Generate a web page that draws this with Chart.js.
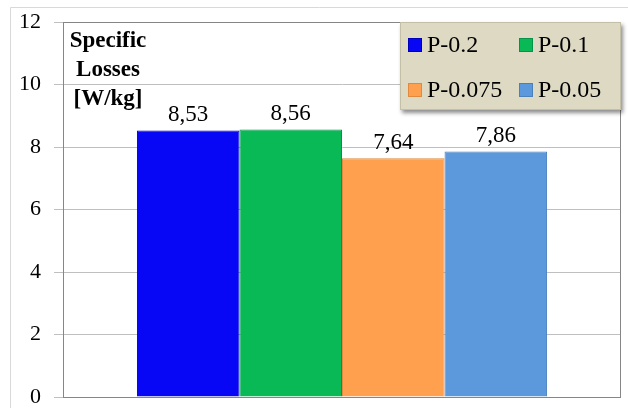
<!DOCTYPE html>
<html>
<head>
<meta charset="utf-8">
<script src="https://cdn.jsdelivr.net/npm/chart.js@4/dist/chart.umd.min.js"></script>
<style>
  html, body { margin: 0; padding: 0; background: #ffffff; }
  #wrap { width: 628px; height: 408px; position: relative; }
</style>
</head>
<body>
<div id="wrap"><canvas id="c" width="628" height="408"></canvas></div>
<script>
// Specific losses per sample
const categories = [''];
const seriesNames = ['P-0.2', 'P-0.1', 'P-0.075', 'P-0.05'];
const lossValues = [8.53, 8.56, 7.64, 7.86];
const seriesColors = ['#0707F5', '#08B956', '#FFA04F', '#5B98DC'];
const seriesEdges = ['#0000B8', '#06924A', '#E08A3F', '#4A80BE'];
const yAxisTitle = ['Specific', 'Losses', '[W/kg]'];
const yMin = 0, yMax = 12, yStep = 2;

const SERIF = "'Liberation Serif', 'Times New Roman', serif";

const datasets = seriesNames.map((name, i) => ({
  label: name,
  data: [lossValues[i]],
  backgroundColor: seriesColors[i],
  borderColor: seriesEdges[i],
  borderWidth: 1,
  categoryPercentage: 0.735,
  barPercentage: 1.0
}));

// Outer frame, drawn behind everything
const framePlugin = {
  id: 'frame',
  beforeDraw(chart) {
    const ctx = chart.ctx;
    ctx.save();
    ctx.fillStyle = '#ffffff';
    ctx.fillRect(0, 0, chart.width, chart.height);
    ctx.strokeStyle = '#D9D9D9';
    ctx.lineWidth = 1;
    ctx.beginPath();
    ctx.moveTo(10.5, chart.height);
    ctx.lineTo(10.5, 7.5);
    ctx.lineTo(chart.width, 7.5);
    ctx.stroke();
    ctx.restore();
  },
  afterDatasetsDraw(chart) {
    // plot area border
    const a = chart.chartArea;
    const ctx = chart.ctx;
    ctx.save();
    ctx.strokeStyle = '#868686';
    ctx.lineWidth = 1;
    ctx.strokeRect(Math.round(a.left) + 0.5, Math.round(a.top) + 0.5,
                   Math.round(a.right - a.left) - 1, Math.round(a.bottom - a.top));
    ctx.restore();
  }
};

// Value labels above bars, axis title, and the legend box
const annotatePlugin = {
  id: 'annotate',
  afterDraw(chart) {
    const ctx = chart.ctx;
    ctx.save();

    // values above each bar
    ctx.font = '23px ' + SERIF;
    ctx.fillStyle = '#000000';
    ctx.textAlign = 'center';
    ctx.textBaseline = 'bottom';
    chart.data.datasets.forEach((ds, i) => {
      const el = chart.getDatasetMeta(i).data[0];
      const txt = ds.data[0].toFixed(2).replace('.', ',');
      ctx.fillText(txt, el.x, el.y - 4);
    });

    // axis title inside the plot
    ctx.font = 'bold 23px ' + SERIF;
    ctx.textBaseline = 'middle';
    const a = chart.chartArea;
    yAxisTitle.forEach((line, k) => {
      ctx.fillText(line, a.left + 45, a.top + 19 + k * 29);
    });

    // legend
    const bx = 400, by = 22, bw = 221, bh = 88;
    ctx.save();
    ctx.shadowColor = 'rgba(0,0,0,0.45)';
    ctx.shadowBlur = 4;
    ctx.shadowOffsetX = 2;
    ctx.shadowOffsetY = 3;
    ctx.fillStyle = '#DDD9C3';
    ctx.fillRect(bx, by, bw, bh);
    ctx.restore();
    ctx.strokeStyle = '#C4C0A8';
    ctx.lineWidth = 1;
    ctx.strokeRect(bx + 0.5, by + 0.5, bw - 1, bh - 1);

    ctx.font = '24px ' + SERIF;
    ctx.textAlign = 'left';
    ctx.textBaseline = 'middle';
    const cols = [408, 519];
    const rows = [45, 90];
    chart.data.datasets.forEach((ds, i) => {
      const x = cols[i % 2];
      const y = rows[Math.floor(i / 2)];
      ctx.fillStyle = ds.backgroundColor;
      ctx.fillRect(x, y - 7, 14, 14);
      ctx.strokeStyle = ds.borderColor;
      ctx.strokeRect(x + 0.5, y - 6.5, 13, 13);
      ctx.fillStyle = '#000000';
      ctx.fillText(ds.label, x + 19, y + 1);
    });

    ctx.restore();
  }
};

new Chart(document.getElementById('c'), {
  type: 'bar',
  data: { labels: categories, datasets },
  options: {
    responsive: false,
    animation: false,
    layout: { padding: { top: 22, right: 7, bottom: 11, left: 0 } },
    plugins: {
      legend: { display: false },
      tooltip: { enabled: false }
    },
    scales: {
      x: {
        display: false,
        stacked: false
      },
      y: {
        min: yMin,
        max: yMax,
        afterFit(scale) {
          scale.width = 63;
          scale.paddingTop = 0;
          scale.paddingBottom = 0;
        },
        ticks: {
          stepSize: yStep,
          color: '#000000',
          padding: 13,
          font: { family: SERIF, size: 22 }
        },
        grid: {
          color: '#BFBFBF',
          tickLength: 9,
          lineWidth: 1
        },
        border: { display: true, color: '#868686' }
      }
    }
  },
  plugins: [framePlugin, annotatePlugin]
});
</script>
</body>
</html>
